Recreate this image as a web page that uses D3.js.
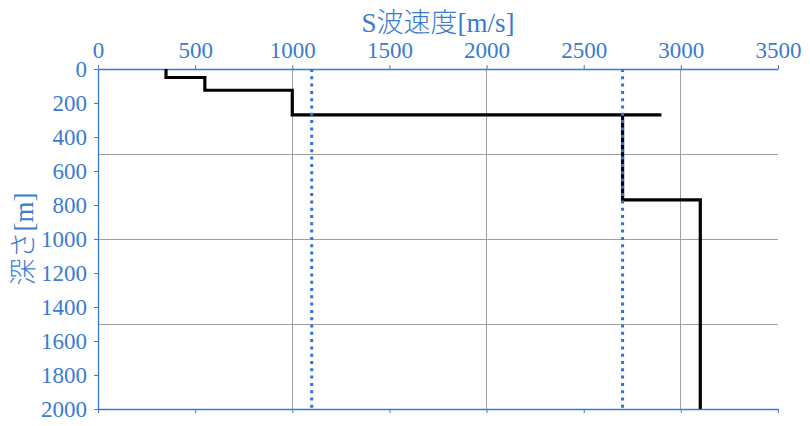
<!DOCTYPE html>
<html>
<head>
<meta charset="utf-8">
<script src="https://cdn.jsdelivr.net/npm/d3@7/dist/d3.min.js"></script>
<style>
  html, body { margin: 0; padding: 0; background: #fff; }
  svg { display: block; }
</style>
</head>
<body>
<svg id="chart" width="810" height="426"></svg>
<script>
// ---- data ----
const profileVelocity = [350, 350, 550, 550, 1000, 1000, 2900, 2700, 2700, 3100, 3100];
const profileDepth    = [0,   50,  50,  125, 125,  270,  270,  270,  770,  770,  2000];
const refVelocities   = [1100, 2700];
const xTicks = [0, 500, 1000, 1500, 2000, 2500, 3000, 3500];
const yTicks = [0, 200, 400, 600, 800, 1000, 1200, 1400, 1600, 1800, 2000];
const xGrid = [1000, 2000, 3000];
const yGrid = [500, 1000, 1500];
const xTitle = "S波速度[m/s]";
const yTitle = "深さ[m]";

// ---- layout ----
const blue = "#3a7bd0";
const dotBlue = "#2f74d4";
const font = "'Liberation Serif', 'Noto Sans CJK JP', serif";
const pLeft = 98, pRight = 778, pTop = 69, pBottom = 409;

const svg = d3.select("#chart");
const x = d3.scaleLinear().domain([0, 3500]).range([pLeft, pRight]);
const y = d3.scaleLinear().domain([0, 2000]).range([pTop, pBottom]);
const fmt = d3.format("d");

// gridlines
svg.append("g").selectAll("line").data(xGrid).join("line")
  .attr("x1", d => x(d)).attr("x2", d => x(d))
  .attr("y1", pTop).attr("y2", pBottom)
  .attr("stroke", "#a0a0a0").attr("stroke-width", 1).attr("shape-rendering", "crispEdges");
svg.append("g").selectAll("line").data(yGrid).join("line")
  .attr("x1", pLeft).attr("x2", pRight)
  .attr("y1", d => y(d)).attr("y2", d => y(d))
  .attr("stroke", "#a0a0a0").attr("stroke-width", 1).attr("shape-rendering", "crispEdges");

function styleAxis(g) {
  g.selectAll("path.domain").attr("stroke", blue).attr("stroke-width", 1.3);
  g.selectAll(".tick line").attr("stroke", blue);
  g.selectAll(".tick text").attr("fill", blue)
    .style("font-family", font).style("font-size", "23px");
}

// top axis
svg.append("g").attr("transform", `translate(0,${pTop})`)
  .call(d3.axisTop(x).tickValues(xTicks).tickFormat(fmt).tickSizeInner(4).tickSizeOuter(0).tickPadding(7))
  .call(styleAxis);

// left axis
svg.append("g").attr("transform", `translate(${pLeft},0)`)
  .call(d3.axisLeft(y).tickValues(yTicks).tickFormat(fmt).tickSizeInner(4).tickSizeOuter(0).tickPadding(7))
  .call(styleAxis);

// bottom axis (no labels)
svg.append("g").attr("transform", `translate(0,${pBottom})`)
  .call(d3.axisBottom(x).tickValues(xTicks).tickSizeInner(4).tickSizeOuter(0).tickFormat(""))
  .call(styleAxis);

// profile line
const pts = profileVelocity.map((v, i) => [v, profileDepth[i]]);
svg.append("path")
  .datum(pts)
  .attr("d", d3.line().x(d => x(d[0])).y(d => y(d[1])))
  .attr("fill", "none").attr("stroke", "#000").attr("stroke-width", 3.2)
  .attr("stroke-linejoin", "miter");

// reference dotted lines
svg.append("g").selectAll("line").data(refVelocities).join("line")
  .attr("x1", d => x(d)).attr("x2", d => x(d))
  .attr("y1", y(0)).attr("y2", y(2000))
  .attr("stroke", dotBlue).attr("stroke-width", 3)
  .attr("stroke-dasharray", "3,4.3");

// titles
svg.append("text")
  .attr("x", (pLeft + pRight) / 2).attr("y", 32)
  .attr("text-anchor", "middle")
  .attr("fill", blue).style("font-family", font).style("font-size", "27px")
  .style("font-weight", 300)
  .text(xTitle);

svg.append("text")
  .attr("transform", `translate(33,${(pTop + pBottom) / 2}) rotate(-90)`)
  .attr("text-anchor", "middle")
  .attr("fill", blue).style("font-family", font).style("font-size", "27px")
  .style("font-weight", 300)
  .text(yTitle);
</script>
</body>
</html>
